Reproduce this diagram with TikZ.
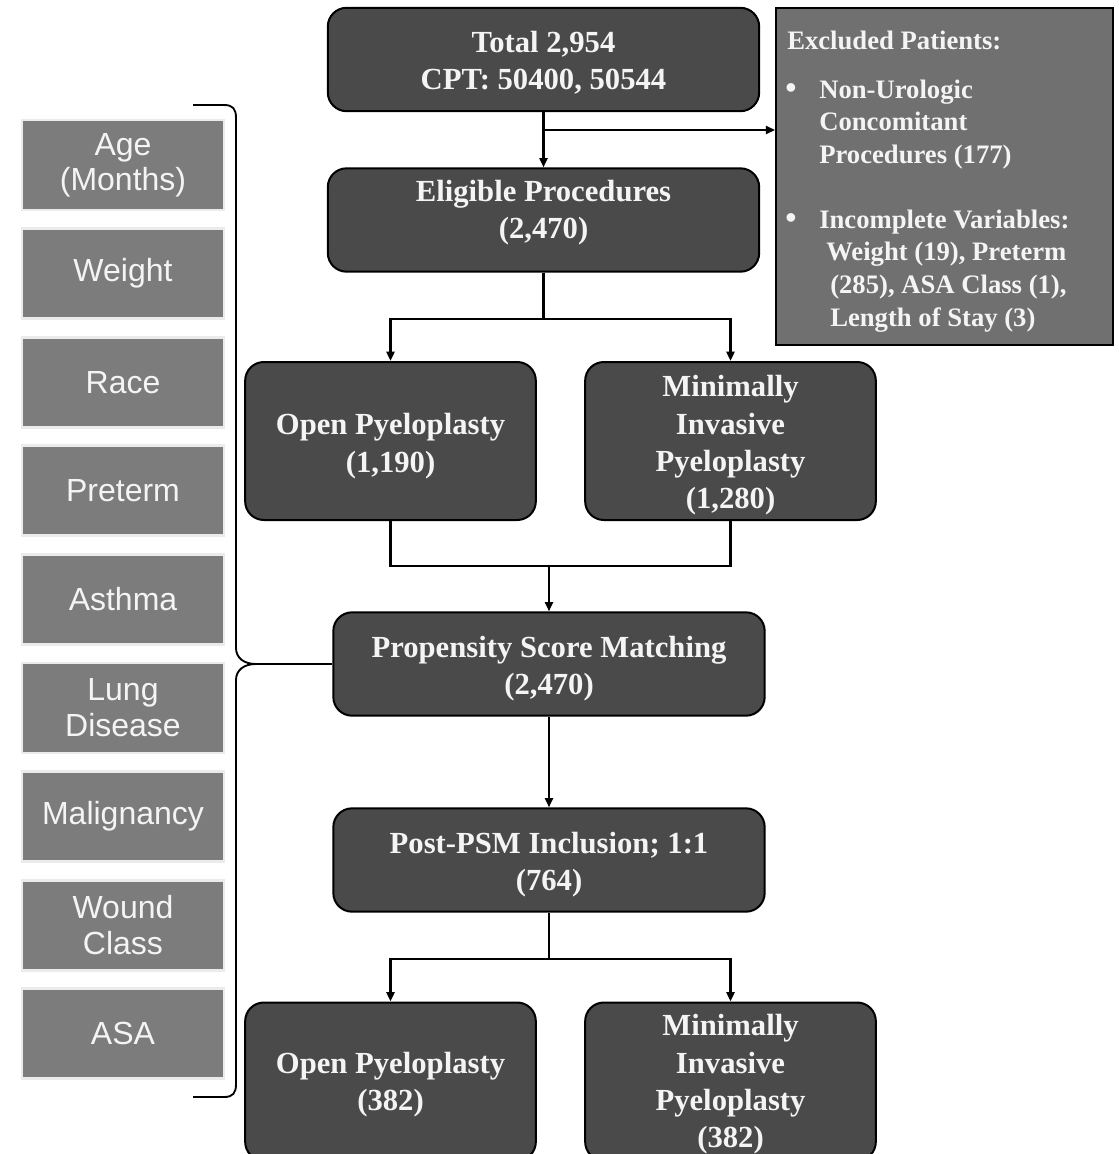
\documentclass[tikz,border=0pt]{standalone}
\usepackage{fontspec}
\setmainfont{Liberation Serif}
\newfontfamily\sansf{Liberation Sans}
\usetikzlibrary{arrows.meta}
\definecolor{boxdark}{HTML}{4A4A4A}
\definecolor{exclfill}{HTML}{707070}
\definecolor{leftfill}{HTML}{7C7C7C}
\definecolor{txt}{HTML}{F4F4F4}
\begin{document}
\begin{tikzpicture}[x=0.75pt,y=-0.75pt,
  dbox/.style={draw=black, line width=1.5pt, fill=boxdark, rounded corners=14pt, inner sep=0pt},
  btxt/.style={text=txt, font=\bfseries\fontsize{23}{28}\selectfont, align=center, inner sep=0pt},
  wide/.style={dbox, minimum width=323.5pt, minimum height=77.5pt},
  half/.style={dbox, minimum width=218pt, minimum height=118.5pt},
  lbox/.style={draw=black!8, line width=2pt, fill=leftfill, text=txt,
    font=\sansf\fontsize{24}{27}\selectfont, align=center, inner sep=0pt,
    minimum width=151.5pt, minimum height=67.5pt},
  etext/.style={anchor=base west, text=txt, inner sep=0pt,
    font=\bfseries\fontsize{20}{24}\selectfont},
  bul/.style={etext, font=\bfseries\fontsize{24}{28}\selectfont},
  conn/.style={draw=black, line width=1.7pt},
  arr/.style={conn, -{Triangle[length=7pt,width=6pt]}}
]
\path[use as bounding box] (0,0) rectangle (1119,1154);
\clip (0,0) rectangle (1119,1154);

% main flow boxes
\node[wide] (tot)  at (543.5,59.5) {};
\node[wide] (elig) at (543.5,220)  {};
\node[half] (open1) at (390.5,441) {};
\node[half] (mip1)  at (730.5,441) {};
\node[wide] (psm)  at (549,664) {};
\node[wide] (post) at (549,860) {};
\node[half] (open2) at (390.5,1081.5) {};
\node[half] (mip2)  at (730.5,1081.5) {};

% box texts
\node[btxt] (tott)   at (543.5,63)   {Total 2,954\\CPT: 50400, 50544};
\node[btxt] (eligt)  at (543.5,212.5){Eligible Procedures\\(2,470)};
\node[btxt] (open1t) at (390.5,446)  {Open Pyeloplasty\\(1,190)};
\node[btxt] (mip1t)  at (730.5,445.5){Minimally\\Invasive\\Pyeloplasty\\(1,280)};
\node[btxt] (psmt)   at (549,668.5)  {Propensity Score Matching\\(2,470)};
\node[btxt] (postt)  at (549,864.5)  {Post-PSM Inclusion; 1:1\\(764)};
\node[btxt] (open2t) at (390.5,1084.5){Open Pyeloplasty\\(382)};
\node[btxt] (mip2t)  at (730.5,1084.5){Minimally\\Invasive\\Pyeloplasty\\(382)};

% excluded box
\node[draw=black, line width=1.3pt, fill=exclfill, minimum width=252.75pt,
  minimum height=252.75pt, inner sep=0pt] (excl) at (944.5,176.5) {};
\node[etext] (e0) at (787,49) {Excluded\ Patients:};
\node[bul] (b1) at (785,98) {•};
\node[etext] (e1) at (819,98) {Non-Urologic};
\node[etext] (e2) at (819,130) {Concomitant};
\node[etext] (e3) at (819,163) {Procedures (177)};
\node[bul] (b2) at (785,228) {•};
\node[etext] (e4) at (819,228) {Incomplete Variables:};
\node[etext] (e5) at (826,260) {Weight (19), Preterm};
\node[etext] (e6) at (830,293) {(285), ASA Class (1),};
\node[etext] (e7) at (830,326) {Length of Stay (3)};

% left covariate boxes
\node[lbox] (l1) at (123,165)   {\raisebox{-3pt}{\shortstack{Age\\[1pt](Months)}}};
\node[lbox] (l2) at (123,273.6) {Weight};
\node[lbox] (l3) at (123,382.2) {Race};
\node[lbox] (l4) at (123,490.8) {Preterm};
\node[lbox] (l5) at (123,599.4) {Asthma};
\node[lbox] (l6) at (123,708)   {Lung\\Disease};
\node[lbox] (l7) at (123,816.6) {Malignancy};
\node[lbox] (l8) at (123,925.2) {Wound\\Class};
\node[lbox] (l9) at (123,1033.8){ASA};

% connectors
\draw[arr] (tot.south) -- (elig.north);
\coordinate (j1) at (543.5,130);
\draw[arr] (j1) -- (j1 -| excl.west);

\draw[conn] (elig.south) -- ++(0,46) coordinate (j2);
\draw[arr] (j2) -| (open1.north);
\draw[arr] (j2) -| (mip1.north);

\coordinate (m1) at (549,566);
\draw[conn] (open1.south) |- (m1) -| (mip1.south);
\draw[arr] (m1) -- (psm.north);

\draw[arr] (psm.south) -- (post.north);

\draw[conn] (post.south) -- ++(0,46) coordinate (j3);
\draw[arr] (j3) -| (open2.north);
\draw[arr] (j3) -| (mip2.north);

% brace
\coordinate (tip) at (256,664);
\draw[line width=1.4pt, line join=round]
  (193,105) -- (224,105) .. controls (233,105) and (236,109) .. (236,118)
  -- (236,648) .. controls (236,658) and (244,664) .. (tip)
  .. controls (244,664) and (236,670) .. (236,680)
  -- (236,1084) .. controls (236,1093) and (233,1097) .. (224,1097) -- (193,1097);
\draw[line width=1.4pt] (tip) -- (psm.west);
\end{tikzpicture}
\end{document}
